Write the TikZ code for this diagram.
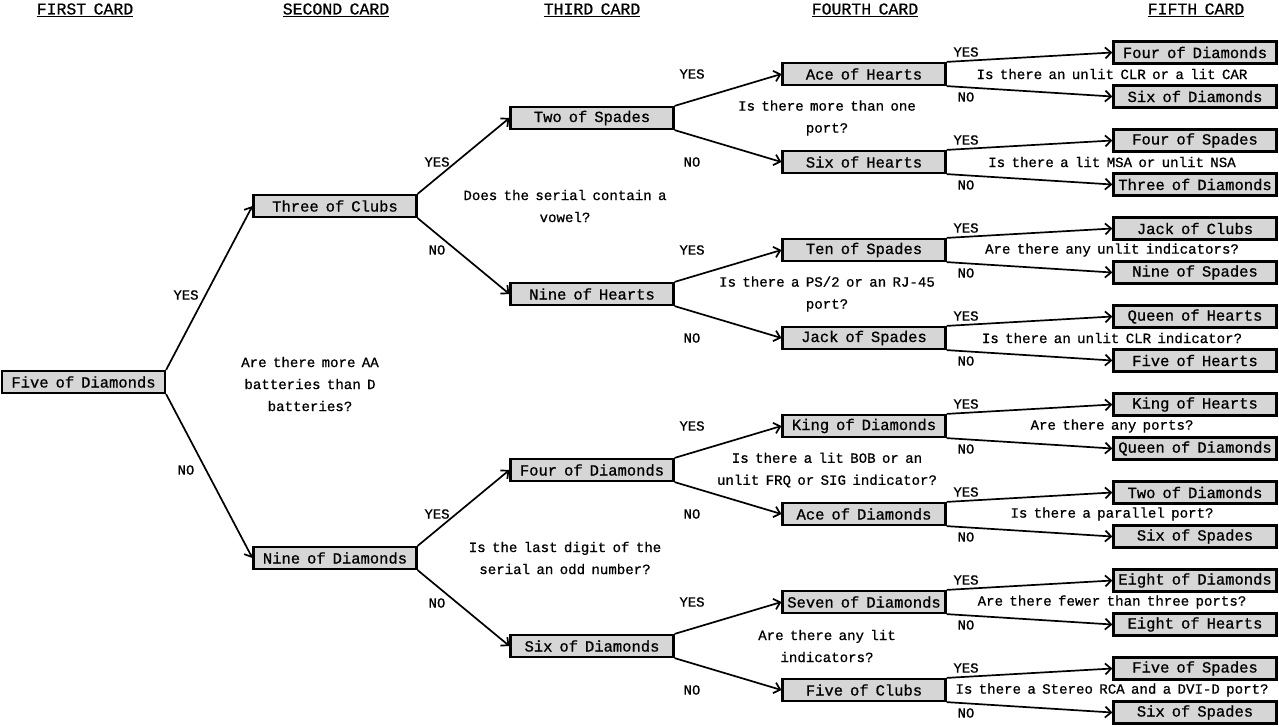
\documentclass[tikz,border=0pt]{standalone}
\usepackage{fontspec}
\usetikzlibrary{arrows.meta}
\newfontfamily\typew{Liberation Mono}[FakeBold=0.8,WordSpace=0.75]
\begin{document}
\begin{tikzpicture}[x=1pt,y=-1pt,
  card/.style={draw,line width=2.2pt,fill=black!16,minimum width=163pt,minimum height=22pt,inner sep=0pt,font=\typew\fontsize{15.5}{18}\selectfont},
  head/.style={font=\typew\fontsize{16.5}{18}\selectfont,inner sep=0pt},
  ques/.style={font=\typew\fontsize{14.1}{22}\selectfont,align=center,inner sep=0pt},
  ans/.style={font=\typew\fontsize{13.9}{16}\selectfont,inner sep=0pt},
  link/.style={line width=1.7pt,-{Straight Barb[length=6pt,width=11pt,line width=1.7pt]}}]
\useasboundingbox (0,0) rectangle (1279,726);

% column headings
\node[head] (h1) at (85,10) {\underline{FIRST CARD}};
\node[head] (h2) at (336,10) {\underline{SECOND CARD}};
\node[head] (h3) at (592,10) {\underline{THIRD CARD}};
\node[head] (h4) at (865,10) {\underline{FOURTH CARD}};
\node[head] (h5) at (1196,10) {\underline{FIFTH CARD}};

% cards
\node[card] (a)   at (83.5,382) {Five of Diamonds};
\node[card] (b1)  at (335,206) {Three of Clubs};
\node[card] (b2)  at (335,558) {Nine of Diamonds};
\node[card] (c1)  at (592,118) {Two of Spades};
\node[card] (c2)  at (592,294) {Nine of Hearts};
\node[card] (c3)  at (592,470) {Four of Diamonds};
\node[card] (c4)  at (592,646) {Six of Diamonds};
\node[card] (d1)  at (864,74)  {Ace of Hearts};
\node[card] (d2)  at (864,162) {Six of Hearts};
\node[card] (d3)  at (864,250) {Ten of Spades};
\node[card] (d4)  at (864,338) {Jack of Spades};
\node[card] (d5)  at (864,426) {King of Diamonds};
\node[card] (d6)  at (864,514) {Ace of Diamonds};
\node[card] (d7)  at (864,602) {Seven of Diamonds};
\node[card] (d8)  at (864,690) {Five of Clubs};
\node[card] (e1)  at (1195,52.5)  {Four of Diamonds};
\node[card] (e2)  at (1195,96.5)  {Six of Diamonds};
\node[card] (e3)  at (1195,140.5) {Four of Spades};
\node[card] (e4)  at (1195,184.5) {Three of Diamonds};
\node[card] (e5)  at (1195,228.5) {Jack of Clubs};
\node[card] (e6)  at (1195,272.5) {Nine of Spades};
\node[card] (e7)  at (1195,316.5) {Queen of Hearts};
\node[card] (e8)  at (1195,360.5) {Five of Hearts};
\node[card] (e9)  at (1195,404.5) {King of Hearts};
\node[card] (e10) at (1195,448.5) {Queen of Diamonds};
\node[card] (e11) at (1195,492.5) {Two of Diamonds};
\node[card] (e12) at (1195,536.5) {Six of Spades};
\node[card] (e13) at (1195,580.5) {Eight of Diamonds};
\node[card] (e14) at (1195,624.5) {Eight of Hearts};
\node[card] (e15) at (1195,668.5) {Five of Spades};
\node[card] (e16) at (1195,712.5) {Six of Spades};

% connectors: upper branch from the top corner, lower branch from the bottom corner
\draw[link] (a.north east) -- (b1.west);
\draw[link] (a.south east) -- (b2.west);
\draw[link] (b1.north east) -- (c1.west);
\draw[link] (b1.south east) -- (c2.west);
\draw[link] (b2.north east) -- (c3.west);
\draw[link] (b2.south east) -- (c4.west);
\draw[link] (c1.north east) -- (d1.west);
\draw[link] (c1.south east) -- (d2.west);
\draw[link] (c2.north east) -- (d3.west);
\draw[link] (c2.south east) -- (d4.west);
\draw[link] (c3.north east) -- (d5.west);
\draw[link] (c3.south east) -- (d6.west);
\draw[link] (c4.north east) -- (d7.west);
\draw[link] (c4.south east) -- (d8.west);
\draw[link] (d1.north east) -- (e1.west);
\draw[link] (d1.south east) -- (e2.west);
\draw[link] (d2.north east) -- (e3.west);
\draw[link] (d2.south east) -- (e4.west);
\draw[link] (d3.north east) -- (e5.west);
\draw[link] (d3.south east) -- (e6.west);
\draw[link] (d4.north east) -- (e7.west);
\draw[link] (d4.south east) -- (e8.west);
\draw[link] (d5.north east) -- (e9.west);
\draw[link] (d5.south east) -- (e10.west);
\draw[link] (d6.north east) -- (e11.west);
\draw[link] (d6.south east) -- (e12.west);
\draw[link] (d7.north east) -- (e13.west);
\draw[link] (d7.south east) -- (e14.west);
\draw[link] (d8.north east) -- (e15.west);
\draw[link] (d8.south east) -- (e16.west);

% answers
\node[ans] (ya)  at (186,295) {YES};
\node[ans] (na)  at (186,470) {NO};
\node[ans] (yb1) at (437,162) {YES};
\node[ans] (nb1) at (437,250) {NO};
\node[ans] (yb2) at (437,514) {YES};
\node[ans] (nb2) at (437,603) {NO};
\node[ans] (yc1) at (692,74)  {YES};
\node[ans] (nc1) at (692,162) {NO};
\node[ans] (yc2) at (692,250) {YES};
\node[ans] (nc2) at (692,338) {NO};
\node[ans] (yc3) at (692,426) {YES};
\node[ans] (nc3) at (692,514) {NO};
\node[ans] (yc4) at (692,602) {YES};
\node[ans] (nc4) at (692,690) {NO};
\node[ans] (yd1) at (966,52)  {YES};
\node[ans] (nd1) at (966,97)  {NO};
\node[ans] (yd2) at (966,140) {YES};
\node[ans] (nd2) at (966,185) {NO};
\node[ans] (yd3) at (966,228) {YES};
\node[ans] (nd3) at (966,273) {NO};
\node[ans] (yd4) at (966,316) {YES};
\node[ans] (nd4) at (966,361) {NO};
\node[ans] (yd5) at (966,404) {YES};
\node[ans] (nd5) at (966,449) {NO};
\node[ans] (yd6) at (966,492) {YES};
\node[ans] (nd6) at (966,537) {NO};
\node[ans] (yd7) at (966,580) {YES};
\node[ans] (nd7) at (966,625) {NO};
\node[ans] (yd8) at (966,668) {YES};
\node[ans] (nd8) at (966,713) {NO};

% questions
\node[ques] (qa)  at (310,384) {Are there more AA\\batteries than D\\batteries?};
\node[ques] (qb1) at (565,206) {Does the serial contain a\\vowel?};
\node[ques] (qb2) at (565,558) {Is the last digit of the\\serial an odd number?};
\node[ques] (qc1) at (827,118) {Is there more than one\\port?};
\node[ques] (qc2) at (827,294) {Is there a PS/2 or an RJ-45\\port?};
\node[ques] (qc3) at (827,470) {Is there a lit BOB or an\\unlit FRQ or SIG indicator?};
\node[ques] (qc4) at (827,646) {Are there any lit\\indicators?};
\node[ques] (qd1) at (1112,74)  {Is there an unlit CLR or a lit CAR};
\node[ques] (qd2) at (1112,162) {Is there a lit MSA or unlit NSA};
\node[ques] (qd3) at (1112,250) {Are there any unlit indicators?};
\node[ques] (qd4) at (1112,338) {Is there an unlit CLR indicator?};
\node[ques] (qd5) at (1112,426) {Are there any ports?};
\node[ques] (qd6) at (1112,514) {Is there a parallel port?};
\node[ques] (qd7) at (1112,602) {Are there fewer than three ports?};
\node[ques] (qd8) at (1112,690) {Is there a Stereo RCA and a DVI-D port?};
\end{tikzpicture}
\end{document}
